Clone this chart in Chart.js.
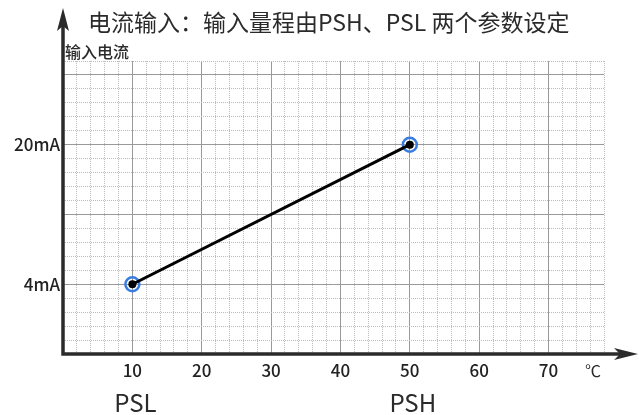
<!DOCTYPE html>
<html>
<head>
<meta charset="utf-8">
<script src="https://cdn.jsdelivr.net/npm/chart.js@4"></script>
<style>
  html, body { margin: 0; padding: 0; background: #fff; }
  #box { width: 639px; height: 415px; position: relative; }
</style>
</head>
<body>
<div id="box"><canvas id="grafico"></canvas></div>
<script>
// dados do grafico
const temperatura = [10, 50];       // PSL, PSH em °C
const corrente = [4, 20];           // mA
const pontosNome = ['PSL', 'PSH'];
const xTicks = [10, 20, 30, 40, 50, 60, 70];
const yTicks = [4, 20];
const titulo = '电流输入：输入量程由PSH、PSL 两个参数设定';
const tituloY = '输入电流';
const unidadeX = '℃';

const fonte = '"Noto Sans CJK SC", "Open Sans", sans-serif';
const pontos = temperatura.map((t, i) => ({ x: t, y: corrente[i] }));

// grade: linha forte a cada 10 °C / 8 mA, pontilhada nas subdivisoes
function forte(v, passo, base) {
  const k = (v - base) / passo;
  return Math.abs(k - Math.round(k)) < 1e-6;
}

// desenha eixos com setas e textos extras
const extras = {
  id: 'extras',
  afterDraw(chart) {
    const ctx = chart.ctx;
    const a = chart.chartArea;
    const sx = chart.scales.x;
    ctx.save();
    ctx.strokeStyle = '#2b2b2b';
    ctx.fillStyle = '#2b2b2b';
    ctx.lineWidth = 3.5;
    ctx.beginPath();
    ctx.moveTo(a.left, a.bottom);
    ctx.lineTo(a.left, 24);
    ctx.moveTo(a.left - 1.75, a.bottom);
    ctx.lineTo(626, a.bottom);
    ctx.stroke();
    // seta y
    ctx.beginPath();
    ctx.moveTo(a.left, 8);
    ctx.lineTo(a.left + 6, 31);
    ctx.lineTo(a.left, 26);
    ctx.lineTo(a.left - 6, 31);
    ctx.closePath();
    ctx.fill();
    // seta x
    ctx.beginPath();
    ctx.moveTo(638, a.bottom);
    ctx.lineTo(614, a.bottom - 6);
    ctx.lineTo(620, a.bottom);
    ctx.lineTo(614, a.bottom + 6);
    ctx.closePath();
    ctx.fill();

    ctx.fillStyle = '#2a2a2a';
    ctx.font = '23px ' + fonte;
    ctx.textAlign = 'left';
    ctx.textBaseline = 'middle';
    ctx.fillText(titulo, 88, 22);

    ctx.font = '500 16px ' + fonte;
    ctx.fillText(tituloY, 65, 52);

    ctx.font = '16px ' + fonte;
    ctx.textAlign = 'center';
    ctx.fillText(unidadeX, 593, 371);

    ctx.font = '24px ' + fonte;
    pontosNome.forEach((n, i) => {
      ctx.fillText(n, sx.getPixelForValue(temperatura[i]) + 3, 403);
    });
    ctx.restore();
  }
};

new Chart(document.getElementById('grafico'), {
  type: 'line',
  data: {
    datasets: [{
      label: 'corrente',
      data: pontos,
      borderColor: '#000',
      borderWidth: 3,
      pointRadius: 4,
      pointBackgroundColor: '#000',
      pointBorderWidth: 0,
      fill: false,
    }, {
      label: 'anel',
      data: pontos,
      showLine: false,
      pointRadius: 7,
      pointBackgroundColor: 'rgba(0,0,0,0)',
      pointBorderColor: '#3a7de0',
      pointBorderWidth: 2.5,
    }]
  },
  options: {
    responsive: true,
    maintainAspectRatio: false,
    animation: false,
    events: [],
    layout: { padding: { top: 61, right: 35, left: 0, bottom: 0 } },
    plugins: { legend: { display: false }, tooltip: { enabled: false } },
    scales: {
      x: {
        type: 'linear',
        min: 0,
        max: 78,
        afterBuildTicks: s => {
          s.ticks = [];
          for (let v = 0; v <= 78; v += 2) s.ticks.push({ value: v });
        },
        afterFit: s => { s.height = 61; },
        border: {
          display: false,
          dash: c => forte(c.tick.value, 10, 0) ? [] : [1, 1],
        },
        grid: {
          drawTicks: false,
          color: c => forte(c.tick.value, 10, 0) ? '#999' : '#bcbcbc',
          lineWidth: 1,
        },
        ticks: {
          autoSkip: false,
          maxRotation: 0,
          padding: 6,
          color: '#222',
          font: { size: 17, family: fonte, weight: '500' },
          callback: v => xTicks.includes(v) ? String(v) : '',
        },
      },
      y: {
        type: 'linear',
        min: -4,
        max: 29.6,
        afterBuildTicks: s => {
          s.ticks = [];
          for (let i = 0; i <= 21; i++) s.ticks.push({ value: -4 + i * 1.6 });
        },
        afterFit: s => { s.width = 63; },
        border: {
          display: false,
          dash: c => forte(c.tick.value, 8, -4) ? [] : [1, 1],
        },
        grid: {
          drawTicks: false,
          color: c => forte(c.tick.value, 8, -4) ? '#999' : '#bcbcbc',
          lineWidth: 1,
        },
        ticks: {
          autoSkip: false,
          padding: 3,
          color: '#222',
          font: { size: 17, family: fonte, weight: '500' },
          callback: v => {
            const t = yTicks.find(y => Math.abs(y - v) < 1e-6);
            return t !== undefined ? t + 'mA' : '';
          },
        },
      }
    }
  },
  plugins: [extras]
});
</script>
</body>
</html>
